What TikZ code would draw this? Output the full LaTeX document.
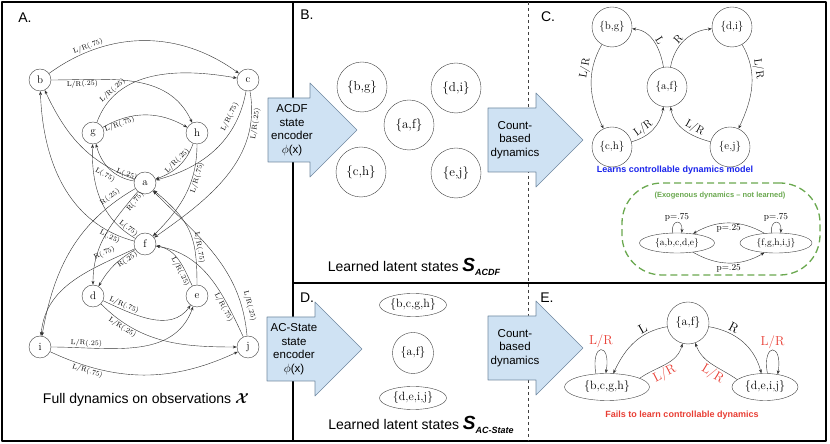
\documentclass[tikz,border=0pt]{standalone}
\usepackage{amsmath,bm}
\usepackage{fontspec}
\setsansfont{Liberation Sans}
\usepackage{tikz}
\usetikzlibrary{arrows.meta,calc,positioning,shapes.geometric}

\definecolor{arrowfill}{RGB}{207,226,243}
\definecolor{arrowline}{RGB}{112,136,160}
\definecolor{exogreen}{RGB}{106,168,79}
\definecolor{failred}{RGB}{232,62,52}
\definecolor{learnblue}{RGB}{25,35,235}

\tikzset{
  panelbox/.style={line width=1.6pt},
  obs/.style={circle,draw=black!75,line width=0.4pt,minimum size=22pt,inner sep=0pt,font=\fontsize{11}{12}\selectfont},
  trans/.style={->,>={Stealth[length=4pt,width=3pt]},draw=black!80,line width=0.4pt},
  lbl/.style={font=\fontsize{7}{8}\selectfont,sloped,inner sep=1pt},
  clbl/.style={font=\fontsize{11}{12}\selectfont,sloped,inner sep=1.5pt},
  elbl/.style={font=\fontsize{13}{14}\selectfont,sloped,inner sep=1.5pt},
  redlbl/.style={font=\fontsize{13}{14}\selectfont,text=failred,inner sep=1.5pt},
  grp/.style={circle,draw=black!75,line width=0.4pt,inner sep=0pt},
  grpe/.style={ellipse,draw=black!75,line width=0.4pt,inner sep=0pt},
  blockarrow/.style={draw=arrowline,fill=arrowfill,line width=0.6pt},
  arrowtext/.style={font=\sffamily\fontsize{11.5}{13.5}\selectfont,align=center},
  panellabel/.style={font=\sffamily\fontsize{14}{16}\selectfont},
  captxt/.style={font=\sffamily\fontsize{14}{16}\selectfont},
}

% block arrow: name, left x, centre y, body length, text
\newcommand{\blockarrow}[5]{%
  \draw[blockarrow] (#2,#3-32) -- ++(#4,0) -- ++(0,-15) -- ++(47,47)
    -- ++(-47,47) -- ++(0,-15) -- ++(-#4,0) -- cycle;
  \node[arrowtext] (#1) at (#2+#4/2+3,#3) {#5};}
\newcommand{\latentsym}[1]{{\fontsize{19}{19}\selectfont\bfseries\itshape S}%
  \raisebox{-0.55ex}{\fontsize{9}{9}\selectfont\bfseries\itshape #1}}

\begin{document}
\begin{tikzpicture}[x=1pt, y=1pt, line join=round]
  \useasboundingbox (0,0) rectangle (830,444);

  % panel frames
  \draw[panelbox] (2,442) rectangle (293,3);
  \draw[panelbox] (293,442) rectangle (826,161);
  \draw[panelbox] (293,161) rectangle (826,3);
  \draw[black!75,dashed,line width=0.7pt] (528,442) -- (528,3);

  \node[panellabel] (labA) at (25,426) {A.};
  \node[panellabel] (labB) at (307,429) {B.};
  \node[panellabel] (labC) at (548,427) {C.};
  \node[panellabel] (labD) at (307,146) {D.};
  \node[panellabel] (labE) at (547,146) {E.};

  % A: full dynamics
  \node[obs] (b) at (40,364) {b};
  \node[obs] (c) at (248,364) {c};
  \node[obs] (g) at (93,311) {g};
  \node[obs] (h) at (197,311) {h};
  \node[obs] (a) at (145,261) {a};
  \node[obs] (f) at (145,200) {f};
  \node[obs] (d) at (93,148) {d};
  \node[obs] (e) at (197,148) {e};
  \node[obs] (i) at (40,97) {i};
  \node[obs] (j) at (248,97) {j};

  \draw[trans] (b) to[bend left=36] node[lbl,above,pos=0.22] {L/R(.75)} (c);
  \draw[trans] (b) to[out=0,in=115] node[lbl,below,pos=0.18] {L/R(.25)} (h);
  \draw[trans] (g) to[out=70,in=170] node[lbl,above,pos=0.22] {L/R(.25)} (c);
  \draw[trans] (g) to[out=30,in=150] node[lbl,below,pos=0.18] {L/R(.75)} (h);
  \draw[trans] (c) to[out=-100,in=15] node[lbl,above=3pt,pos=0.22] {L/R(.75)} (a);
  \draw[trans] (c) to[out=-80,in=35] node[lbl,below,pos=0.17] {L/R(.25)} (f);
  \draw[trans] (h) to[out=-110,in=20] node[lbl,above,pos=0.45] {L/R(.25)} (a);
  \draw[trans] (h) to[out=-90,in=45] node[lbl,below,pos=0.3] {L/R(.75)} (f);
  \draw[trans] (a) to[out=160,in=-65] node[lbl,below=4pt,pos=0.2] {L(.75)} (b);
  \draw[trans] (a) to[out=170,in=-75] node[lbl,above,pos=0.15] {L(.25)} (g);
  \draw[trans] (a) to[out=-130,in=90] node[lbl,below,pos=0.08] {R(.75)} (d);
  \draw[trans] (a) to[out=-150,in=80] node[lbl,above=2pt,pos=0.13] {R(.25)} (i);
  \draw[trans] (f) to[out=150,in=-92] node[lbl,above,pos=0.1] {L(.75)} (g);
  \draw[trans] (f) to[out=165,in=-88] node[lbl,below,pos=0.12] {L(.25)} (b);
  \draw[trans] (f) to[out=205,in=85] node[lbl,above=4pt,pos=0.2] {R(.75)} (i);
  \draw[trans] (f) to[out=-150,in=60] node[lbl,below,pos=0.22] {R(.25)} (d);
  \draw[trans] (e) to[out=90,in=-40,looseness=1.2] node[lbl,above,pos=0.3] {L/R(.75)} (a);
  \draw[trans] (e) to[out=115,in=-10] node[lbl,below,pos=0.3] {L/R(.25)} (f);
  \draw[trans] (j) to[out=115,in=-10] node[lbl,below,pos=0.25] {L/R(.75)} (f);
  \draw[trans] (j) to[out=95,in=-45] node[lbl,above=3pt,pos=0.15] {L/R(.25)} (a);
  \draw[trans] (d) to[out=-25,in=-125] node[lbl,above,pos=0.2] {L/R(.75)} (e);
  \draw[trans] (d) to[out=-45,in=180] node[lbl,below,pos=0.2] {L/R(.25)} (j);
  \draw[trans] (i) to[out=0,in=-110] node[lbl,above,pos=0.2] {L/R(.25)} (e);
  \draw[trans] (i) to[out=-25,in=-155] node[lbl,below,pos=0.2] {L/R(.75)} (j);

  \node[captxt] (capA) at (146,44) {Full dynamics on observations $\bm{\mathcal{X}}$};

  % B: ACDF latent states
  \begin{scope}[every node/.append style={font=\fontsize{13}{14}\selectfont}]
    \node[grp,minimum size=50pt] (Bbg) at (362,357) {\{b,g\}};
    \node[grp,minimum size=50pt] (Bdi) at (456,356) {\{d,i\}};
    \node[grp,minimum size=50pt] (Baf) at (409,319) {\{a,f\}};
    \node[grp,minimum size=50pt] (Bch) at (361,272) {\{c,h\}};
    \node[grp,minimum size=50pt] (Bej) at (456,271) {\{e,j\}};
  \end{scope}
  \node[captxt] (capB) at (414,177) {Learned latent states \latentsym{ACDF}};

  % C: learned controllable model
  \begin{scope}[every node/.append style={font=\fontsize{11}{12}\selectfont}]
    \node[grp,minimum size=40pt] (Cbg) at (612,417) {\{b,g\}};
    \node[grp,minimum size=40pt] (Cdi) at (732,417) {\{d,i\}};
    \node[grp,minimum size=40pt] (Caf) at (667,357) {\{a,f\}};
    \node[grp,minimum size=40pt] (Cch) at (612,297) {\{c,h\}};
    \node[grp,minimum size=40pt] (Cej) at (730,297) {\{e,j\}};
  \end{scope}
  \draw[trans] (Caf) to[out=100,in=-5] node[clbl,above,pos=0.45] {L} (Cbg);
  \draw[trans] (Caf) to[out=80,in=185] node[clbl,above,pos=0.45] {R} (Cdi);
  \draw[trans] (Cbg) to[out=-120,in=115] node[clbl,above,pos=0.3] {L/R} (Cch);
  \draw[trans] (Cdi) to[out=-60,in=65] node[clbl,above,pos=0.3] {L/R} (Cej);
  \draw[trans] (Cch) to[out=15,in=-100] node[clbl,above,pos=0.35] {L/R} (Caf);
  \draw[trans] (Cej) to[out=165,in=-80] node[clbl,above,pos=0.35] {L/R} (Caf);
  \node[font=\sffamily\bfseries\fontsize{9}{10}\selectfont,text=learnblue] (capC) at (675,274) {Learns controllable dynamics model};

  % exogenous part
  \node[draw=exogreen,dash pattern=on 7pt off 4pt,line width=1.3pt,rounded corners=40pt,
        minimum width=198pt,minimum height=92pt] (exo) at (721,215) {};
  \node[font=\sffamily\bfseries\fontsize{7.5}{8}\selectfont,text=exogreen] (exotitle) at (720,248) {(Exogenous dynamics – not learned)};
  \node[grpe,minimum width=75pt,minimum height=20pt,font=\fontsize{9.5}{10}\selectfont] (exA) at (677,201) {\{a,b,c,d,e\}};
  \node[grpe,minimum width=72pt,minimum height=20pt,font=\fontsize{9.5}{10}\selectfont] (exF) at (776,201) {\{f,g,h,i,j\}};
  \draw[trans] (exA.115) to[out=95,in=85,min distance=14pt] node[above,font=\fontsize{9}{10}\selectfont,inner sep=1pt] {p=.75} (exA.65);
  \draw[trans] (exF.115) to[out=95,in=85,min distance=14pt] node[above,font=\fontsize{9}{10}\selectfont,inner sep=1pt] {p=.75} (exF.65);
  \draw[trans] (exF.140) to[out=150,in=30] node[below,font=\fontsize{9}{10}\selectfont,inner sep=1.5pt] {p=.25} (exA.30);
  \draw[trans] (exA.-30) to[out=-30,in=-150] node[below,font=\fontsize{9}{10}\selectfont,inner sep=1.5pt] {p=.25} (exF.-140);

  % D: AC-State latent states
  \begin{scope}[every node/.append style={font=\fontsize{12}{13}\selectfont}]
    \node[grpe,minimum width=67pt,minimum height=23pt] (Dbcgh) at (413,139) {\{b,c,g,h\}};
    \node[grp,minimum size=41pt] (Daf) at (413,91) {\{a,f\}};
    \node[grpe,minimum width=67pt,minimum height=23pt] (Ddeij) at (413,46) {\{d,e,i,j\}};
  \end{scope}
  \node[captxt] (capD) at (421,19) {Learned latent states \latentsym{AC-State}};

  % E: AC-State dynamics
  \begin{scope}[every node/.append style={font=\fontsize{12}{13}\selectfont}]
    \node[grp,minimum size=42pt] (Eaf) at (688,121) {\{a,f\}};
    \node[grpe,minimum width=85pt,minimum height=27pt] (Ebcgh) at (607,57) {\{b,c,g,h\}};
    \node[grpe,minimum width=66pt,minimum height=27pt] (Edeij) at (765,57) {\{d,e,i,j\}};
  \end{scope}
  \draw[trans] (Eaf) to[out=190,in=65] node[elbl,above,pos=0.3] {L} (Ebcgh);
  \draw[trans] (Eaf) to[out=-10,in=105] node[elbl,above,pos=0.3] {R} (Edeij);
  \draw[trans] (Ebcgh.15) to[out=35,in=-105] node[redlbl,sloped,below,pos=0.4] {L/R} (Eaf);
  \draw[trans] (Edeij.165) to[out=145,in=-70] node[redlbl,sloped,below,pos=0.4] {L/R} (Eaf);
  \draw[trans] (Ebcgh.130) to[out=100,in=80,min distance=32pt] node[redlbl,above] {L/R} (Ebcgh.95);
  \draw[trans] (Edeij.80) to[out=100,in=80,min distance=32pt] node[redlbl,above] {L/R} (Edeij.45);
  \node[font=\sffamily\bfseries\fontsize{9}{10}\selectfont,text=failred] (capE) at (682,29) {Fails to learn controllable dynamics};

  % encoder and dynamics arrows
  \blockarrow{encB}{268}{314}{42}{ACDF\\state\\encoder\\$\phi$(x)}
  \blockarrow{dynB}{488}{304}{48}{Count-\\based\\dynamics}
  \blockarrow{encD}{267}{95}{48}{AC-State\\state\\encoder\\$\phi$(x)}
  \blockarrow{dynD}{488}{96}{48}{Count-\\based\\dynamics}
\end{tikzpicture}
\end{document}
